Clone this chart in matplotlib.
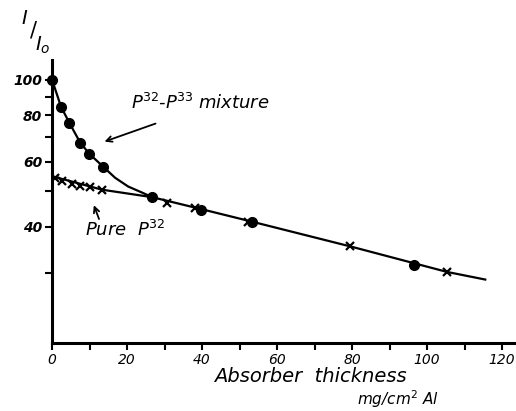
"""
Absorption curve of P32 and P32-P33 mixture in aluminium (hand-drawn style).
Saves out.png at 516x411.
"""

import matplotlib
matplotlib.use('Agg')
import matplotlib.pyplot as plt

# --- data ---
# P32-P33 mixture (filled circles)
mix_x = [0, 2.4, 4.6, 7.5, 9.9, 13.6, 26.7, 39.7, 53.3, 96.5]
mix_y = [100, 84.5, 76.5, 67.6, 63.1, 58.2, 48.1, 44.3, 41.1, 31.6]

# pure P32 (crosses)
pure_x = [0.8, 2.7, 5.3, 7.5, 10.1, 13.3, 30.7, 38.1, 52.3, 79.5, 105.3]
pure_y = [54.3, 53.3, 52.3, 51.7, 51.1, 50.2, 46.5, 45.1, 41.3, 35.4, 30.2]

# hand-drawn curves
pure_curve_x = [0, 13.3, 26.7, 40, 53.3, 80, 105.3, 115.5]
pure_curve_y = [54.8, 50.4, 48.1, 44.6, 41.3, 35.3, 30.2, 28.8]
mix_curve_x = [0, 2.4, 4.6, 7.5, 9.9, 13.6, 16.8, 20.3, 24.0, 26.7]
mix_curve_y = [100, 84.5, 76.5, 67.6, 63.1, 58.2, 54.3, 51.4, 49.5, 48.1]

x_ticks = [0, 20, 40, 60, 80, 100, 120]
x_minor = [10, 30, 50, 70, 90, 110]
y_ticks = [40, 60, 80, 100]
y_minor = [30, 50, 70, 90]

W, H = 516, 411


def fx(px):
    return px / W


def fy(py):
    return 1 - py / H


fig = plt.figure(figsize=(W / 100, H / 100), dpi=100)
ax = fig.add_axes([fx(52), fy(343), fx(516) - fx(52), fy(60) - fy(343)])

ax.set_yscale('log')
ax.set_xlim(0, 123.7)
ax.set_ylim(19.4, 113)

ax.plot(pure_curve_x, pure_curve_y, color='black', lw=1.6, zorder=2)
ax.plot(mix_curve_x, mix_curve_y, color='black', lw=1.6, zorder=2)
ax.plot(pure_x, pure_y, ls='none', marker='x', ms=6, mew=1.6, color='black', zorder=3)
ax.plot(mix_x, mix_y, ls='none', marker='o', ms=7, color='black', zorder=4, clip_on=False)

for side in ['top', 'right']:
    ax.spines[side].set_visible(False)
for side in ['left', 'bottom']:
    ax.spines[side].set_linewidth(2.2)

ax.set_xticks(x_ticks)
ax.set_xticks(x_minor, minor=True)
ax.set_xticklabels([str(t) for t in x_ticks], fontsize=10, style='italic')
ax.set_yticks(y_ticks)
ax.set_yticks(y_minor, minor=True)
ax.set_yticklabels([str(t) for t in y_ticks], fontsize=10, style='italic', fontweight='bold')
ax.yaxis.set_minor_formatter(matplotlib.ticker.NullFormatter())
ax.tick_params(axis='both', which='both', direction='out', length=5, width=1.5)
ax.tick_params(axis='x', pad=2)
ax.tick_params(axis='y', pad=2)

# y label: I / I_o drawn as a slanted fraction
fig.text(fx(24), fy(18), 'I', fontsize=14, style='italic', ha='center', va='center')
fig.text(fx(33), fy(31), '/', fontsize=15, ha='center', va='center')
fig.text(fx(43), fy(45), r'$I_o$', fontsize=14, ha='center', va='center')

fig.text(fx(200), fy(103), r'P$^{32}$-P$^{33}$ mixture', fontsize=13, style='italic',
         ha='center', va='center')
fig.text(fx(125), fy(230), r'Pure  P$^{32}$', fontsize=13, style='italic',
         ha='center', va='center')
fig.text(fx(310), fy(376), 'Absorber  thickness', fontsize=14, style='italic',
         ha='center', va='center')
fig.text(fx(398), fy(399), r'mg/cm$^2$ Al', fontsize=11, style='italic',
         ha='center', va='center')

# arrows
ax.annotate('', xy=(13.3, 67.6), xytext=(28.3, 76.5),
            arrowprops=dict(arrowstyle='->', lw=1.3, color='black'))
ax.annotate('', xy=(10.9, 46.5), xytext=(12.8, 41.3),
            arrowprops=dict(arrowstyle='->', lw=1.3, color='black'))

fig.savefig('out.png', dpi=100)
